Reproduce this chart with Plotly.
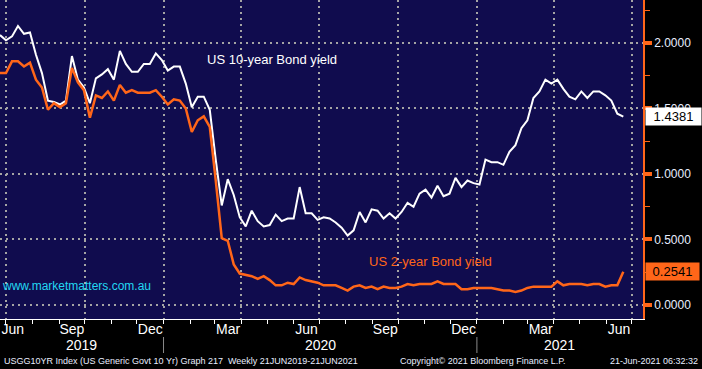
import plotly.graph_objects as go
import pandas as pd

# ---------------- data ----------------
start_date = "2019-06-24"
n_weeks = 105
dates = pd.date_range(start_date, periods=n_weeks, freq="7D")

us10 = [2.06, 2.02, 2.05, 2.13, 2.07, 2.08, 1.91, 1.77, 1.56, 1.55,
        1.53, 1.56, 1.90, 1.72, 1.66, 1.54, 1.73, 1.76, 1.80, 1.72,
        1.94, 1.84, 1.78, 1.78, 1.84, 1.84, 1.92, 1.87, 1.79, 1.82,
        1.82, 1.69, 1.51, 1.59, 1.59, 1.49, 1.11, 0.76, 0.96, 0.84,
        0.67, 0.60, 0.72, 0.64, 0.60, 0.61, 0.69, 0.64, 0.66, 0.66,
        0.90, 0.70, 0.70, 0.65, 0.67, 0.66, 0.63, 0.59, 0.53, 0.57,
        0.71, 0.63, 0.73, 0.72, 0.66, 0.70, 0.66, 0.71, 0.78, 0.75,
        0.85, 0.88, 0.82, 0.91, 0.83, 0.85, 0.97, 0.90, 0.95, 0.93,
        0.92, 1.11, 1.09, 1.09, 1.07, 1.17, 1.22, 1.35, 1.41, 1.58,
        1.63, 1.72, 1.69, 1.72, 1.65, 1.59, 1.57, 1.63, 1.58, 1.63,
        1.63, 1.60, 1.56, 1.46, 1.4381]

us2 = [1.77, 1.77, 1.86, 1.86, 1.82, 1.85, 1.72, 1.66, 1.49, 1.54,
       1.51, 1.54, 1.81, 1.70, 1.64, 1.43, 1.60, 1.58, 1.63, 1.56,
       1.68, 1.62, 1.64, 1.62, 1.62, 1.62, 1.64, 1.59, 1.53, 1.57,
       1.56, 1.50, 1.32, 1.41, 1.44, 1.36, 0.95, 0.51, 0.49, 0.31,
       0.24, 0.23, 0.22, 0.20, 0.22, 0.19, 0.15, 0.15, 0.17, 0.16,
       0.21, 0.19, 0.18, 0.17, 0.15, 0.15, 0.15, 0.13, 0.11, 0.14,
       0.15, 0.13, 0.14, 0.12, 0.14, 0.13, 0.13, 0.14, 0.16, 0.15,
       0.16, 0.16, 0.16, 0.18, 0.16, 0.16, 0.16, 0.12, 0.12, 0.13,
       0.13, 0.13, 0.13, 0.12, 0.11, 0.11, 0.10, 0.11, 0.13, 0.14,
       0.14, 0.14, 0.14, 0.18, 0.15, 0.16, 0.16, 0.16, 0.15, 0.16,
       0.16, 0.14, 0.15, 0.15, 0.2541]

month_labels = ["Jun", "Sep", "Dec", "Mar", "Jun", "Sep", "Dec", "Mar", "Jun"]
year_labels = ["2019", "2020", "2021"]
y_ticks = [0.0, 0.5, 1.0, 1.5, 2.0]

name10 = "US 10-year Bond yield"
name2 = "US 2-year Bond yield"
site = "www.marketmatters.com.au"
footer_left = "USGG10YR Index (US Generic Govt 10 Yr) Graph 217  Weekly 21JUN2019-21JUN2021"
footer_mid = "Copyright\u00a9 2021 Bloomberg Finance L.P."
footer_right = "21-Jun-2021 06:32:32"

# ---------------- styling ----------------
NAVY = "#100c4e"
ORANGE = "#ff6619"
GRID = "#a4a4a4"
CYAN = "#22d8f2"
FONT = "Liberation Sans"

x_start = pd.Timestamp(start_date)
x_end = pd.Timestamp("2021-07-14")

month_starts = pd.date_range("2019-07-01", "2021-07-01", freq="MS")
quarter_starts = pd.date_range("2019-07-01", "2021-07-01", freq="QS-JAN")

label_pos = []
for q in quarter_starts:
    m0 = q - pd.DateOffset(months=1)
    c = m0 + (q - m0) / 2
    c = max(c, x_start + pd.Timedelta(days=15))
    label_pos.append(c)

year_bounds = [pd.Timestamp("2020-01-01"), pd.Timestamp("2021-01-01")]
edges = [x_start] + year_bounds + [x_end]
year_pos = [edges[i] + (edges[i + 1] - edges[i]) / 2 for i in range(3)]

fig = go.Figure()
fig.add_trace(go.Scatter(x=dates, y=us10, mode="lines", name=name10,
                         line=dict(color="white", width=2), xaxis="x", yaxis="y"))
fig.add_trace(go.Scatter(x=dates, y=us2, mode="lines", name=name2,
                         line=dict(color=ORANGE, width=2.5), xaxis="x2", yaxis="y"))

H = 319.0  # plot height in px

def py(pix):
    return (H - pix) / H

fig.update_layout(
    width=702, height=369,
    margin=dict(l=0, r=59, t=0, b=50, autoexpand=False),
    paper_bgcolor="black",
    plot_bgcolor=NAVY,
    showlegend=False,
    font=dict(family=FONT, color="white", size=13),
    xaxis=dict(
        type="date", range=[x_start, x_end],
        tickvals=list(quarter_starts), ticktext=[""] * len(quarter_starts),
        showticklabels=False,
        showgrid=True, gridcolor=GRID, griddash="2px,4px", gridwidth=2,
        ticks="outside", ticklen=4, tickcolor="white", tickwidth=1,
        minor=dict(tickvals=list(month_starts), ticks="outside", ticklen=4,
                   tickcolor="white", tickwidth=1, showgrid=False),
        showline=True, linecolor="white", linewidth=1,
        zeroline=False, fixedrange=True, automargin=False,
    ),
    xaxis2=dict(
        type="date", overlaying="x", matches="x", anchor="y", side="bottom",
        range=[x_start, x_end],
        tickvals=label_pos, ticktext=month_labels,
        ticks="", showgrid=False, showline=False, zeroline=False,
        tickfont=dict(family=FONT, size=14, color="white"), automargin=False,
    ),
    yaxis=dict(
        side="right", range=[-0.107, 2.328],
        tickvals=y_ticks, tickformat=".4f",
        tickfont=dict(family=FONT, size=12, color="#e8eeff"),
        showgrid=True, gridcolor=GRID, griddash="2px,4px", gridwidth=2,
        ticks="outside", ticklen=7, tickwidth=4, tickcolor=ORANGE,
        minor=dict(dtick=0.25, tick0=0, ticks="outside", ticklen=5,
                   tickcolor=ORANGE, tickwidth=1, showgrid=False),
        showline=True, linecolor=ORANGE, linewidth=1.5,
        zeroline=False, fixedrange=True, automargin=False,
    ),
)

ann = []
ann.append(dict(xref="paper", yref="paper", x=205 / 643, y=py(60), xanchor="left",
                yanchor="middle", text=name10, showarrow=False,
                font=dict(family=FONT, size=13, color="white")))
ann.append(dict(xref="paper", yref="paper", x=367 / 643, y=py(261), xanchor="left",
                yanchor="middle", text=name2, showarrow=False,
                font=dict(family=FONT, size=13, color=ORANGE)))
ann.append(dict(xref="paper", yref="paper", x=0, y=py(286), xanchor="left",
                yanchor="middle", text=site, showarrow=False,
                font=dict(family=FONT, size=12, color=CYAN)))
ann.append(dict(xref="paper", yref="y", x=1, y=us10[-1], xanchor="left", yanchor="middle",
                xshift=2, text=f"{us10[-1]:.4f}", showarrow=False, bgcolor="white",
                width=53, height=15, align="center", borderpad=1,
                font=dict(family=FONT, size=13, color="black")))
ann.append(dict(xref="paper", yref="y", x=1, y=us2[-1], xanchor="left", yanchor="middle",
                xshift=2, text=f"{us2[-1]:.4f}", showarrow=False, bgcolor=ORANGE,
                width=51, height=15, align="center", borderpad=1,
                font=dict(family=FONT, size=13, color="black")))
for pos, lab in zip(year_pos, year_labels):
    ann.append(dict(xref="x", yref="paper", x=pos, y=py(345), xanchor="center",
                    yanchor="middle", text=lab, showarrow=False,
                    font=dict(family=FONT, size=14, color="white")))
ann.append(dict(xref="paper", yref="paper", x=2 / 643, y=py(361), xanchor="left",
                yanchor="middle", text=footer_left, showarrow=False,
                font=dict(family=FONT, size=9, color="#e8eeff")))
ann.append(dict(xref="paper", yref="paper", x=398 / 643, y=py(361), xanchor="left",
                yanchor="middle", text=footer_mid, showarrow=False,
                font=dict(family=FONT, size=9, color="#e8eeff")))
ann.append(dict(xref="paper", yref="paper", x=700 / 643, y=py(361), xanchor="right",
                yanchor="middle", text=footer_right, showarrow=False,
                font=dict(family=FONT, size=9, color="#e8eeff")))
fig.update_layout(annotations=ann)

shapes = []
for yb in year_bounds:
    shapes.append(dict(type="line", xref="x", yref="paper", x0=yb, x1=yb,
                       y0=py(337), y1=py(353), line=dict(color="#8a8a8a", width=1)))
fig.update_layout(shapes=shapes)

fig.write_html("out.html", config={"displayModeBar": False},
               post_script="document.body.style.margin='0';document.body.style.overflow='hidden';")
